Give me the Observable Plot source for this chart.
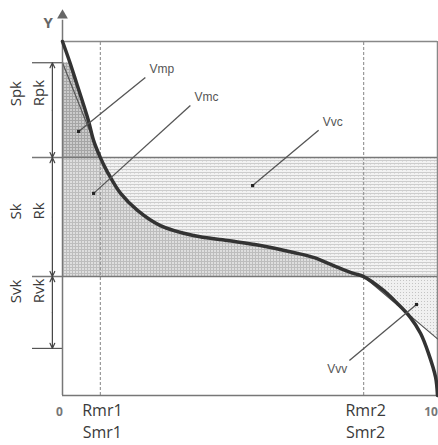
<!DOCTYPE html>
<html><head><meta charset="utf-8">
<script src="https://cdn.jsdelivr.net/npm/d3@7"></script>
<script src="https://cdn.jsdelivr.net/npm/@observablehq/plot@0.6"></script>
<style>body{margin:0;background:#fff} svg{display:block}</style>
</head><body><div id="chart"></div>
<script>
// Areal material ratio curve: x = material ratio (%), z = height (relative units)
const curveMr = [0, 2.0, 3.7, 6.9, 8.3, 10.1, 11.5, 12.8, 15.5, 20, 26.1, 34.9, 44, 52.8, 61.6, 66.9, 72.3, 77.6, 80.3, 85.6, 89.3, 92.8, 95.5, 97.6, 99.5, 100];
const curveZ  = [100, 94, 88.4, 77.7, 72.0, 67.2, 64.1, 61.6, 57.1, 52.3, 48.0, 45.2, 43.8, 42.4, 40.4, 39.0, 36.7, 34.5, 33.6, 29.7, 26.0, 22.0, 17.5, 11.9, 5.1, 0];

// band limits: Rpk top, Sk top, Sk bottom, Rvk bottom
const bandLevels = [94, 67.2, 33.6, 13.3];
const bandLabelsS = ["Spk", "Sk", "Svk"];
const bandLabelsR = ["Rpk", "Rk", "Rvk"];

const mr1 = 10.1, mr2 = 80.3;
const xTickValues = [0, mr1, mr2, 100];
const xTickTop = ["0", "Rmr1", "Rmr2", "100"];
const xTickBottom = ["", "Smr1", "Smr2", ""];

// equivalent straight lines
const eqLine1Mr = [0, 10.1], eqLine1Z = [94, 67.2];
const eqLine2Mr = [80.3, 100], eqLine2Z = [33.6, 16];

// volume annotations
const volNames = ["Vmp", "Vmc", "Vvc", "Vvv"];
const volDotMr = [4.3, 8.3, 50.7, 94.4];
const volDotZ  = [74.6, 57.1, 59.3, 25.7];
const volTailMr = [22.1, 34.1, 68.3, 76.5];
const volTailZ  = [89.8, 81.9, 74.9, 9.9];

const curve = curveMr.map((m, i) => ({mr: m, z: curveZ[i]}));
const [rpkTop, skTop, skBot, rvkBot] = bandLevels;
const coreCurve = curve.filter(d => d.z <= skTop && d.z >= skBot);
const peakCurve = curve.filter(d => d.z <= rpkTop && d.z >= skTop);
const labelShift = [1.1, -0.7, 2.6]; // small vertical nudges of the side labels
const segs = bandLabelsS.map((s, i) => ({s, r: bandLabelsR[i], top: bandLevels[i], bot: bandLevels[i + 1], mid: (bandLevels[i] + bandLevels[i + 1]) / 2, lab: (bandLevels[i] + bandLevels[i + 1]) / 2 + labelShift[i]}));
const ticks = xTickValues.map((v, i) => ({v, top: xTickTop[i], bot: xTickBottom[i]}));
const vols = volNames.map((n, i) => ({n, x1: volTailMr[i], y1: volTailZ[i], x2: volDotMr[i], y2: volDotZ[i]}));

const dimX = -2.7, tickX = -8;
const ink = "#3a3a3a", frameGray = "#888";
const labelFont = "'Open Sans', sans-serif";

const chart = Plot.plot({
  width: 438, height: 445,
  marginLeft: 62, marginRight: 1, marginTop: 41, marginBottom: 50,
  x: {domain: [0, 100], axis: null},
  y: {domain: [0, 100], axis: null},
  style: {background: "#fff"},
  marks: [
    // Vvc band (void, core)
    Plot.rect([0], {x1: 0, x2: 100, y1: skBot, y2: skTop, fill: "url(#voidPat)"}),
    // Vmc (material, core)
    Plot.areaX(coreCurve, {x1: 0, x2: "mr", y: "z", curve: "catmull-rom", fill: "url(#matPat)"}),
    // Vmp (material, peaks)
    Plot.areaX(peakCurve, {x1: 0, x2: "mr", y: "z", curve: "catmull-rom", fill: "url(#matDarkPat)"}),
    // Vvv (void, valleys)
    Plot.areaY(eqLine2Mr.map((m, i) => ({m, z: eqLine2Z[i]})), {x: "m", y1: "z", y2: skBot, fill: "url(#voidPat2)"}),
    // frame top/right
    Plot.ruleY([100], {x1: 0, x2: 100, stroke: frameGray, strokeWidth: 1.5}),
    Plot.ruleX([100], {y1: 0, y2: 100, stroke: frameGray, strokeWidth: 1.5}),
    // Rmr dashed verticals
    Plot.ruleX([mr1, mr2], {y1: 0, y2: 100, stroke: "#999", strokeWidth: 1.2, strokeDasharray: "3,2"}),
    // band lines
    Plot.ruleY([skTop, skBot], {x1: tickX, x2: 100, stroke: "#777", strokeWidth: 1.5}),
    Plot.ruleY([rpkTop, rvkBot], {x1: tickX, x2: 0, stroke: "#555", strokeWidth: 1.2}),
    // dimension arrows
    Plot.arrow(segs, {x1: dimX, x2: dimX, y1: "mid", y2: "top", stroke: "#444", strokeWidth: 1.2, headLength: 7, headAngle: 50}),
    Plot.arrow(segs, {x1: dimX, x2: dimX, y1: "mid", y2: "bot", stroke: "#444", strokeWidth: 1.2, headLength: 7, headAngle: 50}),
    Plot.text(segs, {y: "lab", text: "s", frameAnchor: "left", dx: -46, rotate: -90, fontSize: 15, fill: ink, fontFamily: labelFont}),
    Plot.text(segs, {y: "lab", text: "r", frameAnchor: "left", dx: -23, rotate: -90, fontSize: 15, fill: ink, fontFamily: labelFont}),
    // equivalent lines
    Plot.line(eqLine1Mr.map((m, i) => ({m, z: eqLine1Z[i]})), {x: "m", y: "z", stroke: "#555", strokeWidth: 1.2}),
    Plot.line(eqLine2Mr.map((m, i) => ({m, z: eqLine2Z[i]})), {x: "m", y: "z", stroke: "#555", strokeWidth: 1.2}),
    // axes
    Plot.ruleY([0], {x1: 0, x2: 100, stroke: "#777", strokeWidth: 1.5}),
    Plot.ruleX([0], {y1: 0, y2: 106, stroke: "#777", strokeWidth: 1.5}),
    Plot.dot([0], {x: 0, frameAnchor: "top", dy: -26, symbol: "triangle", r: 4, fill: "#666", stroke: null}),
    Plot.text(["Y"], {frameAnchor: "top-left", dx: -19, dy: -24, fontSize: 15, fontWeight: "bold", fill: "#666", fontFamily: labelFont}),
    // material ratio curve
    Plot.line(curve, {x: "mr", y: "z", curve: "catmull-rom", stroke: "#333", strokeWidth: 3.5}),
    // volume leaders
    Plot.link(vols, {x1: "x1", y1: "y1", x2: "x2", y2: "y2", stroke: "#555", strokeWidth: 1.3}),
    Plot.dot(vols, {x: "x2", y: "y2", symbol: "square", r: 1.8, fill: "#222", stroke: null}),
    Plot.text(vols.filter(d => d.n !== "Vvv"), {x: "x1", y: "y1", text: "n", textAnchor: "start", dx: 4, dy: -8, fontSize: 12, fill: "#555", fontFamily: "'Liberation Sans', Arial, sans-serif"}),
    Plot.text(vols.filter(d => d.n === "Vvv"), {x: "x1", y: "y1", text: "n", textAnchor: "end", dx: -2, dy: 9, fontSize: 12, fill: "#555", fontFamily: "'Liberation Sans', Arial, sans-serif"}),
    // x labels
    Plot.text(ticks.filter(d => d.bot), {x: "v", text: "top", frameAnchor: "bottom", dx: 2, dy: 20, fontSize: 16, fill: ink, fontFamily: labelFont}),
    Plot.text(ticks.filter(d => d.bot), {x: "v", text: "bot", frameAnchor: "bottom", dx: 2, dy: 42, fontSize: 16, fill: ink, fontFamily: labelFont}),
    Plot.text(ticks.filter(d => !d.bot), {x: "v", text: "top", frameAnchor: "bottom", dx: -3, dy: 20, fontSize: 12, fontWeight: "bold", fill: "#777", fontFamily: labelFont})
  ]
});

chart.insertAdjacentHTML("afterbegin", `<defs>
<pattern id="matPat" width="3" height="3" patternUnits="userSpaceOnUse"><rect width="3" height="3" fill="#bdbdbd"/><rect x="1" y="1" width="2" height="2" fill="#dedede"/></pattern>
<pattern id="matDarkPat" width="3" height="3" patternUnits="userSpaceOnUse"><rect width="3" height="3" fill="#a5a5a5"/><rect x="1" y="1" width="2" height="2" fill="#cbcbcb"/></pattern>
<pattern id="voidPat" width="4" height="3" patternUnits="userSpaceOnUse"><rect width="4" height="3" fill="#f3f3f3"/><rect y="1" width="4" height="1" fill="#cdcdcd"/><rect x="2" y="2" width="1" height="1" fill="#dddddd"/></pattern>
<pattern id="voidPat2" width="3" height="3" patternUnits="userSpaceOnUse"><rect width="3" height="3" fill="#f0f0f0"/><rect x="1" y="1" width="1" height="1" fill="#c4c4c4"/></pattern>
</defs>`);
document.getElementById("chart").appendChild(chart);
</script>
</body></html>
